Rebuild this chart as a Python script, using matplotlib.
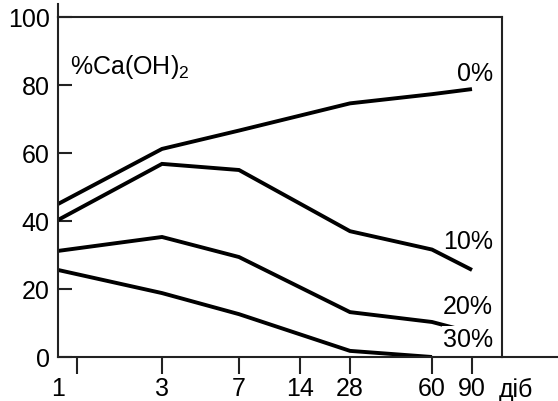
#!/usr/bin/env python3
"""Ca(OH)2 content vs curing age (days) for 0/10/20/30 % additions."""
import matplotlib
matplotlib.use("Agg")
import matplotlib.pyplot as plt
import numpy as np
from matplotlib.lines import Line2D
from matplotlib.scale import FuncScale

plt.rcParams["font.family"] = ["Liberation Sans", "DejaVu Sans"]

days = [1, 3, 7, 28, 60, 90]
ca_0 = [45, 61.2, 66.6, 74.6, 77.3, 78.8]
ca_10 = [40.3, 56.8, 55.0, 37.0, 31.6, 25.6]
ca_20 = [31.2, 35.3, 29.4, 13.2, 10.3, 7.2]
days_30 = [1, 3, 7, 28, 60]
ca_30 = [25.6, 18.8, 12.6, 1.8, 0.0]

tick_days = [1, 3, 7, 14, 28, 60, 90]
tick_labels = ["1", "3", "7", "14", "28", "60", "90"]
y_ticks = [0, 20, 40, 60, 80, 100]

# the hand-drawn day axis is roughly logarithmic but uneven
_ln_nodes = np.log([1, 3, 7, 14, 28, 60, 90, 121])
_pos_nodes = np.array([0, 104, 181, 242, 292, 374, 414, 444], dtype=float)


def _fwd(x):
    x = np.clip(np.asarray(x, dtype=float), 1e-3, None)
    return np.interp(np.log(x), _ln_nodes, _pos_nodes)


def _inv(p):
    return np.exp(np.interp(np.asarray(p, dtype=float), _pos_nodes, _ln_nodes))


fig = plt.figure(figsize=(5.58, 4.02), dpi=100)
ax = fig.add_axes([58 / 558, 44 / 402, 444 / 558, 340 / 402])

FS = 18
lw = 2.8
for xs, ys in [(days, ca_0), (days, ca_10), (days, ca_20), (days_30, ca_30)]:
    ax.plot(xs, ys, color="black", lw=lw, solid_joinstyle="miter",
            solid_capstyle="butt", zorder=2)

ax.set_xscale(FuncScale(ax.xaxis, (_fwd, _inv)))
ax.set_xlim(1, 121)
ax.set_ylim(0, 100)

for sp in ax.spines.values():
    sp.set_linewidth(1.5)
    sp.set_color("#222222")

ax.set_yticks(y_ticks)
ax.set_yticklabels([str(v) for v in y_ticks])
ax.tick_params(axis="y", direction="in", length=10, width=1.5, pad=6,
               labelsize=FS, color="#222222")

ax.set_xticks(tick_days)
ax.set_xticklabels(tick_labels)
ax.set_xticks([1.22], minor=True)
ax.tick_params(axis="x", which="both", direction="out", length=12, width=1.5,
               pad=2, labelsize=FS, color="#222222")
ax.xaxis.get_major_ticks()[0].tick1line.set_visible(False)

# left spine pokes above the frame, baseline runs past the right edge
fig.add_artist(Line2D([58 / 558, 58 / 558], [1 - 18 / 402, 1 - 5 / 402],
                      color="#222222", lw=1.5))
fig.add_artist(Line2D([502 / 558, 1.0], [44 / 402, 44 / 402],
                      color="#222222", lw=1.5))

ax.text(0.027, 0.856, "%Ca(OH)$_\\mathregular{2}$", transform=ax.transAxes,
        fontsize=FS, ha="left", va="center")
ax.text(0.98, 0.835, "0%", transform=ax.transAxes, fontsize=FS,
        ha="right", va="center")
ax.text(0.98, 0.341, "10%", transform=ax.transAxes, fontsize=FS,
        ha="right", va="center")
ax.text(0.98, 0.150, "20%", transform=ax.transAxes, fontsize=FS,
        ha="right", va="center")
ax.text(0.98, 0.053, "30%", transform=ax.transAxes, fontsize=FS,
        ha="right", va="center", zorder=3,
        bbox=dict(facecolor="white", edgecolor="none", pad=0.5))
ax.text(0.993, -0.094, "діб", transform=ax.transAxes, fontsize=FS,
        ha="left", va="center", clip_on=False)

fig.savefig("out.png", dpi=100)
